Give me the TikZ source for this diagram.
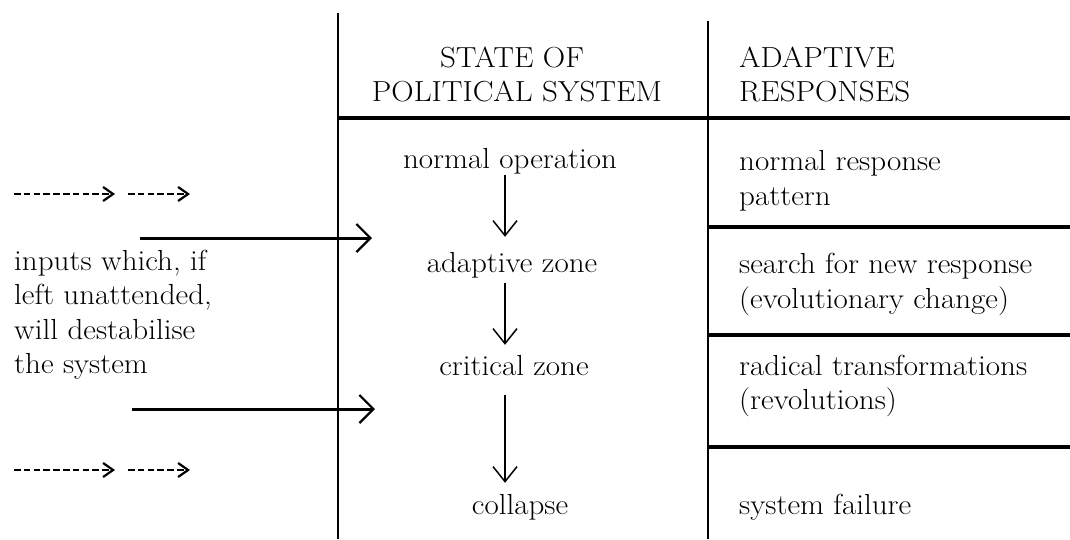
\documentclass[tikz,border=0pt]{standalone}
\usetikzlibrary{arrows.meta}
% slightly widened type, like the spaced-out face of the table
\newcommand\wtxt[1]{\scalebox{1.07}[1]{#1}}
\begin{document}
\begin{tikzpicture}[x=1pt,y=-1pt,
  txt/.style={inner sep=0pt, font=\fontsize{29}{35}\selectfont},
  lft/.style={txt, anchor=base west},
  mid/.style={txt, anchor=base, text height=19pt, text depth=6pt},
  rule/.style={line width=2.4pt},
  thickrule/.style={line width=3.4pt},
  down/.style={line width=1.5pt, -{Straight Barb[length=15pt,width=24pt,line width=1.5pt]}},
  inarrow/.style={line width=3pt, -{Straight Barb[length=14pt,width=28pt,line width=2.2pt]}},
  dasharrow/.style={line width=2.4pt, dash pattern=on 6.5pt off 3.3pt,
    -{Straight Barb[length=10pt,width=14pt,line width=2.2pt]}}
]
\useasboundingbox (0,0) rectangle (1070,539);

% column rules
\draw[rule] (338,13) -- (338,539);
\draw[rule] (708,21) -- (708,539);
\draw[thickrule] (338,118) -- (1070,118);
\draw[thickrule] (708,227) -- (1070,227);
\draw[thickrule] (708,335) -- (1070,335);
\draw[thickrule] (708,447) -- (1070,447);

% headings
\node[txt, anchor=base] (h1a) at (512,67) {\wtxt{STATE OF}};
\node[txt, anchor=base] (h1b) at (517,101) {\wtxt{POLITICAL SYSTEM}};
\node[lft] (h2a) at (739,67) {\wtxt{ADAPTIVE}};
\node[lft] (h2b) at (739,101) {\wtxt{RESPONSES}};

% states of the system
\node[mid] (opn) at (510,168) {\wtxt{normal operation}};
\node[mid] (adz) at (512,272) {\wtxt{adaptive zone}};
\node[mid] (crz) at (514,375) {\wtxt{critical zone}};
\node[mid] (col) at (520,514) {\wtxt{collapse}};

\draw[down, shorten <=1pt, shorten >=16pt] (opn.south -| 505,0) -- (adz.north -| 505,0);
\draw[down, shorten <=5pt, shorten >=11pt] (adz.south -| 505,0) -- (crz.north -| 505,0);
\draw[down, shorten <=14pt, shorten >=12pt] (crz.south -| 505,0) -- (col.north -| 505,0);

% adaptive responses
\node[lft] (r1a) at (739,170) {\wtxt{normal response}};
\node[lft] (r1b) at (739,205) {\wtxt{pattern}};
\node[lft] (r2a) at (739,273) {\wtxt{search for new response}};
\node[lft] (r2b) at (739,308) {\wtxt{(evolutionary change)}};
\node[lft] (r3a) at (739,375) {\wtxt{radical transformations}};
\node[lft] (r3b) at (739,409) {\wtxt{(revolutions)}};
\node[lft] (r4) at (739,514) {\wtxt{system failure}};

% inputs
\node[lft] (i1) at (14,270) {\wtxt{inputs which, if}};
\node[lft] (i2) at (14,304) {\wtxt{left unattended,}};
\node[lft] (i3) at (14,339) {\wtxt{will destabilise}};
\node[lft] (i4) at (14,373) {\wtxt{the system}};

\coordinate (a1s) at (140,238);
\coordinate (a1e) at (372,238);
\coordinate (a2s) at (132,409);
\coordinate (a2e) at (375,409);
\draw[inarrow] (a1s) -- (a1e);
\draw[inarrow] (a2s) -- (a2e);

\coordinate (d1s) at (14,194);
\coordinate (d1e) at (115,194);
\coordinate (d2s) at (128,194);
\coordinate (d2e) at (190,194);
\coordinate (d3s) at (14,470);
\coordinate (d3e) at (115,470);
\coordinate (d4s) at (128,470);
\coordinate (d4e) at (190,470);
\draw[dasharrow] (d1s) -- (d1e);
\draw[dasharrow] (d2s) -- (d2e);
\draw[dasharrow] (d3s) -- (d3e);
\draw[dasharrow] (d4s) -- (d4e);
\end{tikzpicture}
\end{document}
